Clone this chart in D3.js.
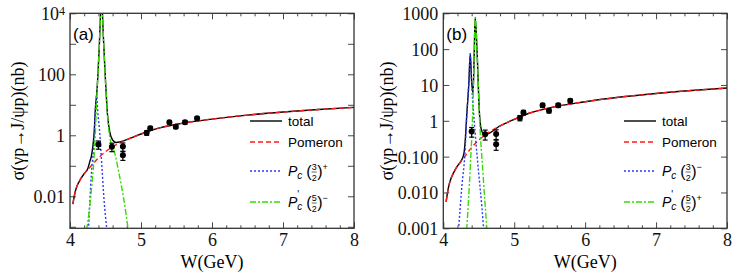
<!DOCTYPE html>
<html lang="en">
<head>
<meta charset="UTF-8">
<script src="https://cdnjs.cloudflare.com/ajax/libs/d3/7.8.5/d3.min.js"></script>
<style>
  body { margin: 0; background: #fff; }
  .serif { font-family: 'Liberation Serif', 'Times New Roman', serif; }
  .sans { font-family: 'Liberation Sans', Arial, sans-serif; }
</style>
<title>sigma gamma p</title>
</head>
<body>
<div id="chart"></div>
<script>
// Pomeron contribution (same in both panels)
const pomW = [4.04, 4.06, 4.08, 4.1, 4.15, 4.2, 4.25, 4.3, 4.4, 4.5, 4.6, 4.8, 5.0, 5.2, 5.5, 6.0, 6.5, 7.0, 7.5, 8.0];
const pomS = [0.0055, 0.01, 0.016, 0.022, 0.037, 0.055, 0.075, 0.1, 0.18, 0.29, 0.42, 0.72, 1.1, 1.6, 2.3, 3.4, 4.6, 5.8, 7.0, 8.2];

// panel (a)
const totAW = [4.04, 4.06, 4.08, 4.1, 4.15, 4.2, 4.25, 4.28, 4.30, 4.32, 4.34, 4.36, 4.376, 4.39, 4.41, 4.445, 4.47, 4.49, 4.53, 4.56, 4.6, 4.65, 4.7, 4.8, 5.0, 5.2, 5.5, 6.0, 6.5, 7.0, 7.5, 8.0];
const totAS = [0.0055, 0.01, 0.016, 0.022, 0.037, 0.055, 0.08, 0.14, 0.2, 0.4, 1.2, 9, 22, 70, 620, 30000, 1700, 175, 4.3, 1.3, 0.7, 0.58, 0.6, 0.72, 1.1, 1.6, 2.3, 3.4, 4.6, 5.8, 7.0, 8.2];
const pcAW = [4.26, 4.30, 4.34, 4.36, 4.376, 4.39, 4.42, 4.45, 4.48, 4.52];
const pcAS = [0.0008, 0.05, 0.8, 9, 20, 6.6, 1.1, 0.09, 0.0074, 0.0008];
const pc2AW = [4.235, 4.305, 4.35, 4.376, 4.41, 4.445, 4.47, 4.49, 4.53, 4.56, 4.63, 4.70, 4.76, 4.82];
const pc2AS = [0.0008, 0.02, 0.53, 14, 610, 30000, 1700, 173, 4, 0.88, 0.26, 0.043, 0.0074, 0.0008];

// panel (b)
const totBW = [4.04, 4.06, 4.08, 4.1, 4.15, 4.2, 4.25, 4.29, 4.31, 4.33, 4.36, 4.38, 4.40, 4.42, 4.437, 4.45, 4.475, 4.51, 4.53, 4.56, 4.6, 4.8, 5.0, 5.2, 5.5, 6.0, 6.5, 7.0, 7.5, 8.0];
const totBS = [0.0055, 0.01, 0.016, 0.022, 0.037, 0.055, 0.075, 0.12, 0.3, 1.4, 11, 75, 12, 6, 97, 760, 98, 1.6, 0.65, 0.45, 0.42, 0.72, 1.1, 1.6, 2.3, 3.4, 4.6, 5.8, 7.0, 8.2];
const pcBW = [4.215, 4.26, 4.31, 4.33, 4.36, 4.38, 4.40, 4.45, 4.50, 4.545, 4.57];
const pcBS = [0.0009, 0.0137, 0.18, 1.28, 11, 75, 11, 0.44, 0.033, 0.0037, 0.0009];
const pc2BW = [4.33, 4.38, 4.42, 4.437, 4.45, 4.475, 4.51, 4.56, 4.615];
const pc2BS = [0.0009, 0.05, 3.8, 97, 760, 97, 1.28, 0.033, 0.0009];

// experimental points
const ptW = [4.40, 4.59, 4.745, 4.745, 5.08, 5.13, 5.40, 5.49, 5.62, 5.79];
const ptS = [0.5, 0.42, 0.43, 0.22, 1.2, 1.7, 2.7, 1.9, 2.7, 3.6];
const ptE = [0.15, 0.13, 0.13, 0.07, 0.2, 0.25, 0.35, 0.25, 0.35, 0.45];

const xMajor = [4, 5, 6, 7, 8];
const yTicksA = [1e-3, 1e-2, 1e-1, 1, 10, 100, 1e3, 1e4];
const yLabelsA = { 0.01: "0.01", 1: "1", 100: "100" };
const yTicksB = [1e-3, 1e-2, 1e-1, 1, 10, 100, 1e3];
const yLabelsB = { 0.001: "0.001", 0.01: "0.010", 0.1: "0.100", 1: "1", 10: "10", 100: "100", 1000: "1000" };

const zip = (a, b) => a.map((d, i) => [d, b[i]]);

const svg = d3.select("#chart").append("svg")
  .attr("width", 747).attr("height", 280);

function panel(o) {
  const x = d3.scaleLinear().domain([4, 8]).range([o.left, o.right]);
  const y = d3.scaleLog().domain(o.ydom).range([o.bottom, o.top]);
  const g = svg.append("g");

  const clipId = "clip" + o.name;
  svg.append("clipPath").attr("id", clipId).append("rect")
    .attr("x", o.left).attr("y", o.top)
    .attr("width", o.right - o.left).attr("height", o.bottom - o.top);

  // axes, ticks inward
  const minor = d3.range(4, 8.001, 0.2).filter(v => Math.abs(v - Math.round(v)) > 1e-6);
  const axStyle = sel => {
    sel.select(".domain").remove();
    sel.selectAll("line").attr("stroke", "#333").attr("stroke-width", 0.9);
    sel.selectAll("text").attr("class", "serif").attr("font-size", 18).attr("fill", "#111");
  };
  g.append("g").attr("transform", `translate(0,${o.bottom})`)
    .call(d3.axisBottom(x).tickValues(xMajor).tickSize(-6).tickPadding(5).tickFormat(d3.format("d")))
    .call(axStyle).attr("font-family", null);
  g.append("g").attr("transform", `translate(0,${o.bottom})`)
    .call(d3.axisBottom(x).tickValues(minor).tickSize(-3).tickFormat("")).call(axStyle);
  g.append("g").attr("transform", `translate(0,${o.top})`)
    .call(d3.axisTop(x).tickValues(xMajor).tickSize(-6).tickFormat("")).call(axStyle);
  g.append("g").attr("transform", `translate(0,${o.top})`)
    .call(d3.axisTop(x).tickValues(minor).tickSize(-3).tickFormat("")).call(axStyle);

  const yl = g.append("g").attr("transform", `translate(${o.left},0)`)
    .call(d3.axisLeft(y).tickValues(o.yticks).tickSize(-6).tickPadding(5)
      .tickFormat(d => o.ylabels[d] || ""))
    .call(axStyle);
  yl.selectAll(".tick").filter(d => o.yticks.indexOf(d) >= 0 && !o.ylabels[d] && o.sup && d === 1e4)
    .select("text").text(null)
    .call(t => { t.append("tspan").text("10"); t.append("tspan").attr("dy", "-0.45em").attr("font-size", 12).text("4"); });
  yl.selectAll("text").attr("dy", "0.36em");
  g.append("g").attr("transform", `translate(${o.right},0)`)
    .call(d3.axisRight(y).tickValues(o.yticks).tickSize(-6).tickFormat("")).call(axStyle);

  // curves
  const line = d3.line().x(d => x(d[0])).y(d => y(d[1])).curve(d3.curveMonotoneX);
  const cg = g.append("g").attr("clip-path", `url(#${clipId})`).attr("fill", "none");
  cg.append("path").attr("d", line(zip(o.totW, o.totS))).attr("stroke", "#000").attr("stroke-width", 1.4);
  cg.append("path").attr("d", line(zip(pomW, pomS))).attr("stroke", "#ff1a1a").attr("stroke-width", 1.4).attr("stroke-dasharray", "5,3");
  cg.append("path").attr("d", line(zip(o.pcW, o.pcS))).attr("stroke", "#2b3bff").attr("stroke-width", 1.4).attr("stroke-dasharray", "2,2");
  cg.append("path").attr("d", line(zip(o.pc2W, o.pc2S))).attr("stroke", "#33dd00").attr("stroke-width", 1.4).attr("stroke-dasharray", "6,2,2,2");

  // data points with error bars
  const pts = g.append("g");
  ptW.forEach((w, i) => {
    const cx = x(w), lo = y(ptS[i] - ptE[i]), hi = y(ptS[i] + ptE[i]);
    pts.append("line").attr("x1", cx).attr("x2", cx).attr("y1", lo).attr("y2", hi).attr("stroke", "#000").attr("stroke-width", 1.2);
    [lo, hi].forEach(v => pts.append("line").attr("x1", cx - 2.5).attr("x2", cx + 2.5).attr("y1", v).attr("y2", v).attr("stroke", "#000").attr("stroke-width", 1.2));
    pts.append("circle").attr("cx", cx).attr("cy", y(ptS[i])).attr("r", 3).attr("fill", "#000");
  });

  // frame
  g.append("rect").attr("x", o.left).attr("y", o.top)
    .attr("width", o.right - o.left).attr("height", o.bottom - o.top)
    .attr("fill", "none").attr("stroke", "#333").attr("stroke-width", 1.3);

  // titles
  g.append("text").attr("class", "serif").attr("font-size", 18)
    .attr("x", (o.left + o.right) / 2).attr("y", 268).attr("text-anchor", "middle").text("W(GeV)");
  g.append("text").attr("class", "serif").attr("font-size", 18).attr("text-anchor", "middle")
    .attr("transform", `translate(${o.ytx},121) rotate(-90)`).text("σ(γp→J/ψp)(nb)");
  g.append("text").attr("class", "sans").attr("font-size", 17)
    .attr("x", o.left + 3).attr("y", 40).text(o.tag);

  // legend
  const lx = o.legX;
  const items = [
    { c: "#000", d: null, y: 121 },
    { c: "#ff1a1a", d: "5,3", y: 142 },
    { c: "#2b3bff", d: "2,2", y: 171 },
    { c: "#33dd00", d: "6,2,2,2", y: 202 }
  ];
  items.forEach(it => {
    g.append("line").attr("x1", lx).attr("x2", lx + 32).attr("y1", it.y).attr("y2", it.y)
      .attr("stroke", it.c).attr("stroke-width", 1.4).attr("stroke-dasharray", it.d);
  });
  const tx = lx + 38;
  g.append("text").attr("class", "sans").attr("font-size", 13.5).attr("x", tx).attr("y", 126).text("total");
  g.append("text").attr("class", "sans").attr("font-size", 13.5).attr("x", tx).attr("y", 147).text("Pomeron");
  resLabel(g, tx, 171, false, "3", o.sign1);
  resLabel(g, tx, 202, true, "5", o.sign2);
}

// P_c (n/2)^± label built from pieces
function resLabel(g, x0, yc, prime, num, sign) {
  const base = yc + 5;
  let x = x0;
  const put = (t, size, dy, italic) => {
    const el = g.append("text").attr("class", "sans").attr("font-size", size)
      .attr("x", x).attr("y", base + dy).attr("font-style", italic ? "italic" : null).text(t);
    return el.node().getComputedTextLength();
  };
  x += put("P", 14, 0, true);
  if (prime) put("'", 10, -9, false);
  x += put("c", 10, 3, true) + 4;
  x += put("(", 16, 1, false);
  const fx = x;
  const w1 = put(num, 9, -6, false);
  put("2", 9, 5, false);
  g.append("line").attr("x1", fx).attr("x2", fx + w1).attr("y1", base - 4).attr("y2", base - 4)
    .attr("stroke", "#000").attr("stroke-width", 0.6);
  x += w1 + 0.5;
  x += put(")", 16, 1, false);
  put(sign, 9, -6, false);
}

panel({
  name: "a", tag: "(a)", left: 70, right: 354, top: 13.3, bottom: 228.3,
  ydom: [10 ** -3.05, 1e4], yticks: yTicksA, ylabels: yLabelsA, sup: true,
  totW: totAW, totS: totAS, pcW: pcAW, pcS: pcAS, pc2W: pc2AW, pc2S: pc2AS,
  ytx: 24, legX: 250, sign1: "+", sign2: "−"
});
panel({
  name: "b", tag: "(b)", left: 443.3, right: 727, top: 13.3, bottom: 228.3,
  ydom: [1e-3, 1e3], yticks: yTicksB, ylabels: yLabelsB, sup: false,
  totW: totBW, totS: totBS, pcW: pcBW, pcS: pcBS, pc2W: pc2BW, pc2S: pc2BS,
  ytx: 393, legX: 624, sign1: "−", sign2: "+"
});
</script>
</body>
</html>
